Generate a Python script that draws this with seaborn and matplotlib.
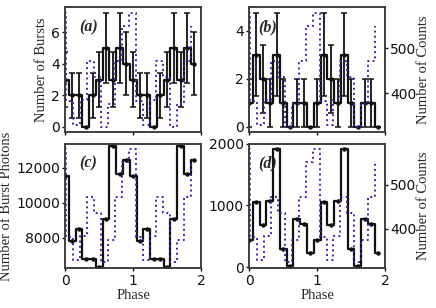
import numpy as np
import matplotlib
matplotlib.use("Agg")
import matplotlib.pyplot as plt
import seaborn as sns

# ---------------- data ----------------
phase = np.round(np.arange(20) * 0.1, 1)
bursts_a = [3, 2, 2, 0, 2, 3, 5, 3, 5, 4] * 2
bursts_b = [1, 3, 2, 1, 3, 1, 0, 1, 1, 0] * 2
photons_c = [11520, 7810, 8480, 6800, 6820, 6340, 9090, 13280, 11660, 12480] * 2
photons_d = [440, 1060, 690, 1080, 1920, 295, 10, 775, 695, 220] * 2
counts_blue = [579, 383, 330, 385, 471, 437, 325, 376, 471, 550] * 2
blue_phase = np.linspace(-0.093, 1.856, 20)

panel_labels = ["(a)", "(b)", "(c)", "(d)"]
left_labels = ["Number of Bursts", "", "Number of Burst Photons", ""]
right_label = "Number of Counts"
x_label = "Phase"

# ---------------- style ----------------
sns.set_style("ticks")
plt.rcParams["font.family"] = ["DejaVu Sans"]
plt.rcParams["font.size"] = 10
SERIF = ["Liberation Serif", "DejaVu Serif"]
BLUE = "#2e2ea8"
SPINE = "#3a3a3a"

fig = plt.figure(figsize=(4.36, 3.08), dpi=100)
positions = [
    [0.150, 0.570, 0.311, 0.406],
    [0.572, 0.570, 0.311, 0.406],
    [0.150, 0.130, 0.311, 0.403],
    [0.572, 0.130, 0.311, 0.403],
]
series = [bursts_a, bursts_b, photons_c, photons_d]
label_x = [0.10, 0.065, 0.10, 0.065]

for i, (pos, vals) in enumerate(zip(positions, series)):
    ax = fig.add_axes(pos)
    vals = np.asarray(vals, dtype=float)
    if i < 2:
        ax.errorbar(phase, vals, yerr=np.sqrt(vals), fmt="none", ecolor="#111111",
                    elinewidth=1.3, capsize=2.3, capthick=1.1, zorder=2)
    sns.lineplot(x=phase, y=vals, ax=ax, drawstyle="steps-mid", color="#111111",
                 linewidth=1.6, marker="o", markersize=3.2, markeredgewidth=0,
                 estimator=None, zorder=3)
    tw = ax.twinx()
    sns.lineplot(x=blue_phase, y=counts_blue, ax=tw, drawstyle="steps-post",
                 color=BLUE, linestyle=":", linewidth=1.4, estimator=None)
    ax.set_xlim(0, 2)
    ax.set_xticks([0, 1, 2])
    if i == 0:
        ax.set_yticks([0, 2, 4, 6])
    elif i == 1:
        ax.set_yticks([0, 2, 4])
    elif i == 2:
        ax.set_ylim(6280, 13380)
        ax.set_yticks([8000, 10000, 12000])
    else:
        ax.set_ylim(-15, 2000)
        ax.set_yticks([0, 1000, 2000])
    if i < 2:
        ax.set_xticklabels([])
        ax.set_xlabel("")
    else:
        ax.set_xlabel(x_label, family=SERIF, fontsize=10.5, labelpad=1)
    ax.set_ylabel(left_labels[i], family=SERIF, fontsize=10.5, labelpad=2)
    if i % 2 == 1:
        tw.set_yticks([400, 500])
        tw.set_ylabel(right_label, family=SERIF, fontsize=10.5, labelpad=1)
        tw.tick_params(axis="y", direction="out", length=2.5, width=1, pad=1,
                       labelsize=10, colors="#111111")
    else:
        tw.set_yticks([])
        tw.set_ylabel("")
    ax.tick_params(direction="out", length=2.5, width=1, pad=1.5, labelsize=10,
                   colors="#111111")
    for a in (ax, tw):
        for s in a.spines.values():
            s.set_visible(True)
            s.set_color(SPINE)
            s.set_linewidth(1.1)
    ax.text(label_x[i], 0.84, panel_labels[i], transform=ax.transAxes,
            family=SERIF, fontsize=11.5, fontweight="bold", fontstyle="italic",
            va="center", ha="left", zorder=5)

fig.savefig("out.png", dpi=100)
